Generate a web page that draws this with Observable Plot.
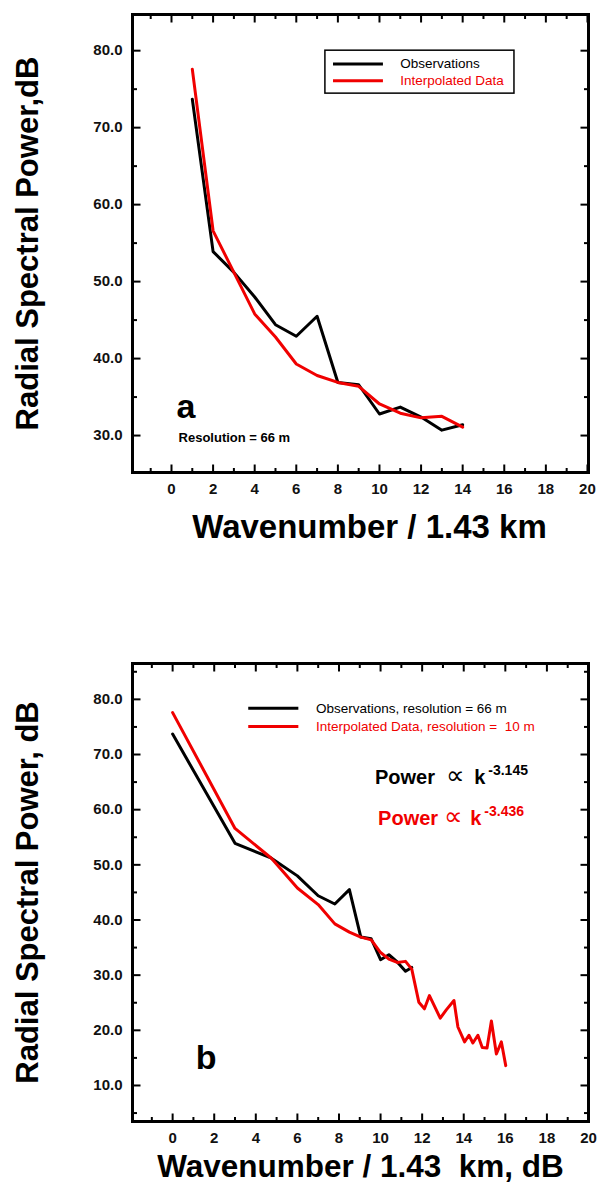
<!DOCTYPE html>
<html>
<head>
<meta charset="utf-8">
<script src="https://cdn.jsdelivr.net/npm/d3@7"></script>
<script src="https://cdn.jsdelivr.net/npm/@observablehq/plot@0.6"></script>
<style>
html, body { margin: 0; padding: 0; background: #fff; }
#chart { width: 598px; }
#chart svg { display: block; }
</style>
</head>
<body>
<div id="chart"></div>
<script>
// ---------- Data ----------
const wavenumberA = [1, 2, 3, 4, 5, 6, 7, 8, 9, 10, 11, 12, 13, 14];
const observedPower = [73.7, 53.9, 51.2, 48.0, 44.4, 42.9, 45.5, 36.9, 36.6, 32.8, 33.7, 32.4, 30.7, 31.4];
const interpolatedPower = [77.6, 56.6, 51.2, 45.8, 42.8, 39.3, 37.8, 36.9, 36.4, 34.1, 32.9, 32.3, 32.5, 31.1];

const wavenumberDbB = [0, 3.0, 4.75, 6.0, 7.0, 7.8, 8.5, 9.05, 9.55, 10.0, 10.4, 10.8, 11.2, 11.5];
const tailWavenumberDb = [11.84, 12.11, 12.35, 12.87, 13.16, 13.53, 13.72, 14.04, 14.25, 14.44, 14.68, 14.89, 15.12, 15.33, 15.57, 15.81, 16.02];
const tailInterpolatedPower = [25.1, 23.9, 26.3, 22.2, 23.7, 25.4, 20.6, 17.9, 19.1, 17.7, 19.1, 16.9, 16.8, 21.7, 15.7, 17.9, 13.6];

const xMajorTicks = [0, 2, 4, 6, 8, 10, 12, 14, 16, 18, 20];
const xMinorTicks = [-1, 1, 3, 5, 7, 9, 11, 13, 15, 17, 19];
const yMajorTicksA = [30, 40, 50, 60, 70, 80];
const yMinorTicksA = [35, 45, 55, 65, 75];
const yMajorTicksB = [10, 20, 30, 40, 50, 60, 70, 80];
const yMinorTicksB = [5, 15, 25, 35, 45, 55, 65, 75, 85];

const yLabelA = "Radial Spectral Power,dB";
const xLabelA = "Wavenumber / 1.43 km";
const yLabelB = "Radial Spectral Power, dB";
const xLabelB = "Wavenumber / 1.43\u00a0 km, dB";
const legendA = ["Observations", "Interpolated Data"];
const legendB = ["Observations, resolution = 66 m", "Interpolated Data, resolution =  10 m"];

const FONT = '"Liberation Sans", Arial, Helvetica, sans-serif';
const RED = "#f00000";
const fmt1 = d3.format(".1f");
const W = 598, ML = 132, MR = 10;

// inward tick segments (two points each, grouped by id) drawn as short lines
function tickPoints(xDom, yDom, innerW, innerH, yMajor, yMinor) {
  const kx = (xDom[1] - xDom[0]) / innerW;
  const ky = (yDom[1] - yDom[0]) / innerH;
  const pts = [];
  let id = 0;
  const seg = (xa, ya, xb, yb) => { pts.push({id, x: xa, y: ya}, {id, x: xb, y: yb}); id++; };
  const addX = (ticks, len) => ticks.filter(d => d > xDom[0] && d < xDom[1]).forEach(t => {
    seg(t, yDom[0], t, yDom[0] + len * ky);
    seg(t, yDom[1], t, yDom[1] - len * ky);
  });
  const addY = (ticks, len) => ticks.filter(d => d > yDom[0] && d < yDom[1]).forEach(t => {
    seg(xDom[0], t, xDom[0] + len * kx, t);
    seg(xDom[1], t, xDom[1] - len * kx, t);
  });
  addX(xMajorTicks, 8); addX(xMinorTicks, 4.5);
  addY(yMajor, 8); addY(yMinor, 4.5);
  return pts;
}

function axisMarks(xDom, yDom, innerW, innerH, yMajor, yMinor) {
  return [
    Plot.frame({stroke: "#000", fill: "none", strokeWidth: 3}),
    Plot.line(tickPoints(xDom, yDom, innerW, innerH, yMajor, yMinor),
      {x: "x", y: "y", z: "id", stroke: "#000", strokeWidth: 2, strokeLinecap: "butt"}),
    Plot.axisX(xMajorTicks, {anchor: "bottom", tickSize: 0, tickPadding: 11, label: null,
      fontSize: 15, fontWeight: "bold", fill: "#111", tickFormat: d => String(d)}),
    Plot.axisY(yMajor, {anchor: "left", tickSize: 0, tickPadding: 10, label: null,
      fontSize: 15, fontWeight: "bold", fill: "#111", tickFormat: fmt1})
  ];
}

const style = {fontFamily: FONT, background: "#fff", overflow: "visible", color: "#000"};

// ---------- Panel a ----------
const xDomA = [-1.875, 20.05], yDomA = [25.2, 84.7];
const HA = 560, MTA = 14, MBA = 88;
const obsA = wavenumberA.map((k, i) => ({x: k, y: observedPower[i]}));
const intA = wavenumberA.map((k, i) => ({x: k, y: interpolatedPower[i]}));

const panelA = Plot.plot({
  width: W, height: HA,
  marginTop: MTA, marginBottom: MBA, marginLeft: ML, marginRight: MR,
  style,
  x: {domain: xDomA, axis: null, label: null},
  y: {domain: yDomA, axis: null, label: null},
  marks: [
    ...axisMarks(xDomA, yDomA, W - ML - MR, HA - MTA - MBA, yMajorTicksA, yMinorTicksA),
    Plot.line(obsA, {x: "x", y: "y", stroke: "#000", strokeWidth: 3}),
    Plot.line(intA, {x: "x", y: "y", stroke: RED, strokeWidth: 3}),
    Plot.rect([0], {x1: 7.40, x2: 16.49, y1: 74.42, y2: 80.0, fill: "none", stroke: "#000", strokeWidth: 1.5}),
    Plot.ruleY([0], {y: 78.27, x1: 7.79, x2: 10.19, stroke: "#000", strokeWidth: 3}),
    Plot.ruleY([0], {y: 76.1, x1: 7.79, x2: 10.19, stroke: RED, strokeWidth: 3}),
    Plot.text([legendA[0]], {x: 11.0, y: 78.27, text: d => d, textAnchor: "start", lineAnchor: "middle", fontSize: 13.5, fill: "#000"}),
    Plot.text([legendA[1]], {x: 11.0, y: 76.1, text: d => d, textAnchor: "start", lineAnchor: "middle", fontSize: 13.5, fill: RED}),
    Plot.text(["a"], {x: 0.24, y: 32.34, text: d => d, textAnchor: "start", lineAnchor: "bottom", fontSize: 34, fontWeight: "bold", fill: "#000"}),
    Plot.text(["Resolution = 66 m"], {x: 0.34, y: 29.1, text: d => d, textAnchor: "start", lineAnchor: "bottom", fontSize: 13, fontWeight: "bold", fill: "#000"}),
    Plot.text([yLabelA], {frameAnchor: "left", dx: -104, rotate: -90, text: d => d, lineAnchor: "middle", textAnchor: "middle", fontSize: 31, fontWeight: "bold", fill: "#000"}),
    Plot.text([xLabelA], {frameAnchor: "bottom", dx: 9, dy: 55, text: d => d, lineAnchor: "middle", textAnchor: "middle", fontSize: 33, fontWeight: "bold", fill: "#000"})
  ]
});

// ---------- Panel b ----------
const xDomB = [-1.93, 20.0], yDomB = [3.47, 86.5];
const HB = 630, MTB = 103, MBB = 69;
const obsB = wavenumberDbB.map((x, i) => ({x, y: observedPower[i]}));
const intB = wavenumberDbB.map((x, i) => ({x, y: interpolatedPower[i]}))
  .concat(tailWavenumberDb.map((x, i) => ({x, y: tailInterpolatedPower[i]})));

const sym = {textAnchor: "start", lineAnchor: "bottom", fontSize: 26, fontFamily: "DejaVu Sans", text: d => d};
const pw = {textAnchor: "start", lineAnchor: "bottom", fontSize: 20, fontWeight: "bold", text: d => d};
const sup = {textAnchor: "start", lineAnchor: "bottom", fontSize: 14, fontWeight: "bold", text: d => d};

const panelB = Plot.plot({
  width: W, height: HB,
  marginTop: MTB, marginBottom: MBB, marginLeft: ML, marginRight: MR,
  style,
  x: {domain: xDomB, axis: null, label: null},
  y: {domain: yDomB, axis: null, label: null},
  marks: [
    ...axisMarks(xDomB, yDomB, W - ML - MR, HB - MTB - MBB, yMajorTicksB, yMinorTicksB),
    Plot.line(obsB, {x: "x", y: "y", stroke: "#000", strokeWidth: 3}),
    Plot.line(intB, {x: "x", y: "y", stroke: RED, strokeWidth: 3}),
    Plot.ruleY([0], {y: 78.37, x1: 3.66, x2: 6.07, stroke: "#000", strokeWidth: 3}),
    Plot.ruleY([0], {y: 75.1, x1: 3.66, x2: 6.07, stroke: RED, strokeWidth: 3}),
    Plot.text([legendB[0]], {x: 6.89, y: 78.37, text: d => d, textAnchor: "start", lineAnchor: "middle", fontSize: 13.5, fill: "#000"}),
    Plot.text([legendB[1]], {x: 6.89, y: 75.1, text: d => d, textAnchor: "start", lineAnchor: "middle", fontSize: 13.5, fill: RED}),
    Plot.text(["Power"], {...pw, x: 9.73, y: 64.6, fill: "#000"}),
    Plot.text(["\u221d"], {...sym, x: 13.15, y: 64.6, fill: "#000"}),
    Plot.text(["k"], {...pw, x: 14.51, y: 64.6, fill: "#000"}),
    Plot.text(["-3.145"], {...sup, x: 15.18, y: 66.3, fill: "#000"}),
    Plot.text(["Power"], {...pw, x: 9.88, y: 57.15, fill: RED}),
    Plot.text(["\u221d"], {...sym, x: 13.05, y: 57.15, fill: RED}),
    Plot.text(["k"], {...pw, x: 14.31, y: 57.15, fill: RED}),
    Plot.text(["-3.436"], {...sup, x: 14.99, y: 58.8, fill: RED}),
    Plot.text(["b"], {x: 1.11, y: 12.9, text: d => d, textAnchor: "start", lineAnchor: "bottom", fontSize: 34, fontWeight: "bold", fill: "#000"}),
    Plot.text([yLabelB], {frameAnchor: "left", dx: -104, rotate: -90, text: d => d, lineAnchor: "middle", textAnchor: "middle", fontSize: 31, fontWeight: "bold", fill: "#000"}),
    Plot.text([xLabelB], {frameAnchor: "bottom", dx: 0, dy: 45, text: d => d, lineAnchor: "middle", textAnchor: "middle", fontSize: 31.5, fontWeight: "bold", fill: "#000"})
  ]
});

const chart = document.getElementById("chart");
chart.appendChild(panelA);
chart.appendChild(panelB);
</script>
</body>
</html>
